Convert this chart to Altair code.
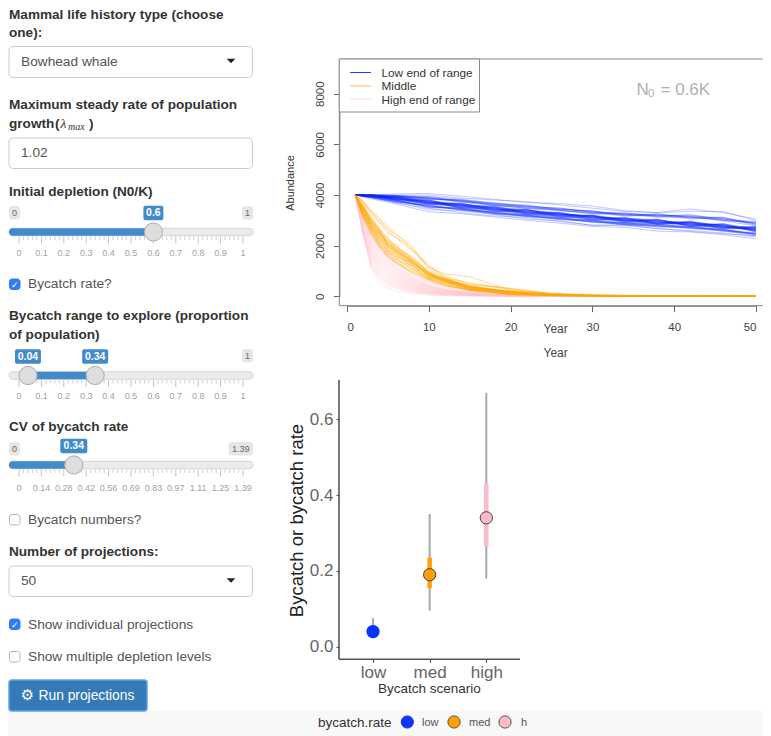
import altair as alt
import pandas as pd

FONT = "Liberation Sans"
OX, OY = 8, 8
W, H = 755, 728

# ------------------------------------------------------------------ chart data
YEARS_LOW = [1, 3, 6, 10, 14, 18, 22, 26, 30, 34, 38, 42, 46, 50]
LOW_LINES = [
    [4000,4010,4040,4060,3950,3830,3700,3660,3560,3380,3310,3450,3300,3050],
    [4000,4000,3990,4000,3880,3800,3740,3610,3480,3350,3290,3360,3340,2990],
    [4000,3850,3640,3340,3260,3130,3000,2890,2760,2720,2570,2540,2430,2270],
    [4000,3880,3700,3420,3380,3230,3050,2980,2800,2830,2660,2600,2500,2340],
    [4000,3900,3690,3480,3300,3170,3110,2950,2810,2790,2680,2560,2470,2400],
    [4000,3980,3900,3780,3640,3500,3410,3240,3190,3020,2990,2860,2840,2660],
    [4000,3970,3860,3700,3620,3440,3390,3290,3120,3090,2930,2910,2760,2700],
    [4000,4000,3920,3690,3580,3510,3340,3230,3170,3000,3010,2850,2790,2630],
    [4000,3960,3840,3750,3560,3470,3360,3200,3210,3040,2910,2920,2730,2720],
    [4000,3990,3880,3680,3650,3420,3310,3280,3100,3070,2950,2830,2820,2610],
    [4000,3950,3910,3730,3540,3490,3300,3310,3090,2980,3000,2870,2710,2750],
    [4000,3980,3830,3770,3600,3400,3420,3190,3160,3060,2880,2900,2770,2640],
    [4000,3940,3870,3660,3630,3530,3280,3250,3130,2950,2970,2810,2850,2590],
    [4000,3990,3930,3710,3520,3450,3350,3170,3200,3010,2920,2940,2700,2680],
    [4000,3970,3820,3790,3570,3380,3400,3300,3060,3080,2860,2840,2800,2620],
    [4000,3960,3890,3640,3660,3460,3250,3220,3180,2970,3020,2790,2750,2710],
    [4000,4010,3850,3720,3510,3520,3320,3150,3140,3030,2900,2950,2680,2650],
    [4000,3930,3900,3760,3590,3370,3380,3270,3040,3100,2940,2780,2830,2570],
    [4000,3980,3800,3670,3640,3480,3230,3240,3170,2940,2990,2880,2720,2730],
    [4000,3990,3950,3740,3500,3430,3440,3130,3110,3050,2870,2920,2790,2600],
    [4000,3950,3860,3630,3610,3550,3290,3260,3020,3000,3030,2760,2740,2690],
    [4000,3970,3810,3800,3550,3360,3370,3180,3190,2960,2850,2930,2810,2550],
    [4000,3920,3880,3700,3670,3410,3260,3320,3080,3110,2960,2820,2690,2760],
    [4000,4000,3840,3650,3530,3540,3410,3120,3150,2990,2890,2970,2780,2580],
    [4000,3960,3930,3780,3480,3460,3270,3210,3010,3070,3040,2750,2860,2670],
    [4000,3940,3790,3710,3620,3350,3330,3280,3160,2930,2910,2860,2670,2700],
    [4000,3980,3870,3620,3570,3500,3240,3160,3050,3040,2840,2890,2810,2560],
    [4000,3990,3820,3750,3460,3420,3430,3230,3120,2910,2980,2800,2720,2740],
    [4000,3930,3920,3690,3680,3390,3210,3190,3000,3090,2830,2950,2740,2610],
    [4000,3960,3780,3640,3590,3570,3300,3110,3180,2970,3050,2770,2880,2540],
    [4000,3970,3900,3820,3450,3330,3360,3250,3030,2900,2860,2910,2650,2690],
    [4000,4010,3960,3850,3800,3700,3560,3480,3330,3230,3170,3100,3050,2880],
    [4000,3990,3980,3880,3740,3660,3600,3430,3370,3190,3210,3140,2990,2900],
    [4000,3900,3740,3580,3450,3290,3180,3080,2940,2850,2790,2700,2620,2450],
    [4000,3920,3760,3550,3420,3320,3150,3060,2970,2820,2750,2730,2590,2480],
    [4000,4000,3970,3930,3840,3660,3580,3450,3340,3260,3220,3170,3090,2870],
    [4000,3990,3940,3900,3790,3630,3530,3490,3300,3280,3180,3200,3040,2930],
    [4000,4010,3990,3860,3770,3680,3510,3420,3380,3220,3240,3120,3110,2850],
    [4000,3970,3950,3950,3750,3610,3570,3400,3290,3300,3160,3230,3020,2960],
    [4000,4000,3920,3840,3820,3590,3490,3460,3350,3180,3260,3090,3130,2820],
    [4000,3980,3960,3880,3710,3640,3470,3390,3270,3240,3140,3160,3000,2900],
    [4000,3990,3900,3910,3730,3570,3540,3370,3310,3160,3200,3060,3070,2800],
    [4000,4000,3940,3830,3780,3600,3460,3410,3250,3250,3120,3130,2980,2780],
    [4000,3930,3790,3540,3490,3310,3240,3090,3000,2870,2840,2740,2640,2470],
    [4000,3920,3750,3600,3430,3340,3190,3130,2960,2900,2800,2780,2610,2510],
    [4000,3940,3810,3520,3510,3280,3220,3050,3020,2860,2860,2710,2660,2430],
    [4000,3910,3730,3570,3410,3300,3160,3100,2930,2920,2770,2760,2580,2500],
    [4000,3950,3770,3500,3470,3250,3200,3020,2980,2840,2810,2690,2630,2420],
    [4000,3900,3720,3610,3390,3270,3140,3070,2910,2880,2740,2720,2560,2460],
    [4000,3930,3800,3530,3440,3240,3170,3040,2950,2810,2780,2670,2600,2380],
]

YEARS_MED = [1, 2, 3, 4, 5, 6, 7, 8, 10, 12, 15, 20, 25, 30, 40, 50]
MED_LINES = [
    [4000,3760,3400,3060,2770,2480,2160,1870,1170,800,500,260,120,60,15,5],
    [4000,3720,3330,3010,2680,2420,2230,1960,1060,730,520,300,110,50,12,4],
    [4000,3680,3300,2920,2620,2310,2120,1830,1250,700,450,320,100,48,11,4],
    [4000,3700,3220,2900,2500,2340,2010,1790,1130,880,770,230,95,45,10,3],
    [4000,3560,3080,2640,2310,1960,1770,1490,980,690,400,200,85,40,9,3],
    [4000,3500,3110,2540,2180,2040,1700,1570,930,720,370,190,80,38,8,3],
    [4000,3620,2990,2680,2240,1880,1750,1420,890,640,420,175,76,36,8,2],
    [4000,3440,3030,2590,2090,1990,1640,1520,960,610,350,210,72,34,7,2],
    [4000,3580,2930,2500,2270,1830,1690,1380,870,700,390,160,70,32,7,2],
    [4000,3380,2970,2610,2030,1920,1590,1460,910,590,330,185,66,30,6,2],
    [4000,3520,2880,2460,2150,1780,1640,1350,820,660,360,150,62,28,6,2],
    [4000,3340,2910,2520,1990,1870,1530,1410,950,570,410,170,60,27,6,2],
    [4000,3470,2830,2390,2100,1730,1580,1300,860,630,310,140,55,25,5,2],
    [4000,3300,2860,2430,1940,1800,1490,1370,780,680,340,165,52,24,5,2],
    [4000,3410,2770,2350,2050,1690,1520,1260,840,550,300,130,50,22,5,1],
    [4000,3260,2800,2300,1910,1750,1440,1320,900,600,380,120,48,20,4,1],
    [4000,3360,2720,2400,1860,1640,1470,1220,750,650,290,155,45,19,4,1],
    [4000,3220,2740,2260,1950,1600,1400,1280,810,530,320,110,43,18,4,1],
    [4000,3310,2670,2200,1820,1660,1350,1180,770,580,270,145,40,17,3,1],
    [4000,3180,2690,2240,1760,1570,1420,1150,720,620,280,105,38,16,3,1],
    [4000,3240,2610,2130,1790,1500,1300,1210,730,500,260,95,36,15,3,1],
    [4000,3130,2640,2090,1700,1530,1250,1090,690,540,240,100,34,14,3,1],
    [4000,3200,2550,2040,1660,1440,1270,1060,700,470,255,85,32,13,3,1],
    [4000,3080,2500,2000,1630,1380,1170,1010,670,450,225,75,30,12,2,1],
    [4000,3150,2460,1960,1580,1350,1130,960,650,430,250,65,25,10,2,1],
    [4000,3080,2400,1900,1550,1310,1100,930,640,420,250,60,22,9,2,1],
    [4000,3490,2950,2470,2120,1850,1610,1390,880,610,350,160,65,30,6,2],
    [4000,3430,2850,2560,2000,1770,1560,1340,830,670,330,175,58,26,5,2],
]

YEARS_HIGH = [1, 2, 3, 4, 5, 6, 8, 10, 12, 15, 20, 30, 50]
HIGH_LINES = [
    [4000,3500,2800,2250,1800,1450,870,600,400,240,70,12,1],
    [4000,3440,2740,2180,1740,1380,840,560,370,210,60,10,1],
    [4000,3380,2650,2120,1660,1300,760,520,340,190,52,8,1],
    [4000,3330,2600,2030,1610,1240,720,450,290,150,48,8,1],
    [4000,3260,2520,1970,1550,1190,680,430,270,135,45,7,1],
    [4000,3200,2450,1900,1480,1130,650,410,260,125,42,7,1],
    [4000,3150,2370,1830,1420,1080,620,390,240,120,38,6,1],
    [4000,3080,2300,1760,1350,1030,590,370,230,110,36,6,1],
    [4000,3030,2220,1690,1290,980,560,350,215,105,33,5,0],
    [4000,2970,2160,1620,1220,930,530,330,200,100,30,5,0],
    [4000,2910,2090,1550,1160,880,500,310,190,92,28,4,0],
    [4000,2860,2010,1480,1100,830,470,290,175,85,25,4,0],
    [4000,2800,1940,1410,1040,790,440,270,165,78,23,3,0],
    [4000,2740,1870,1340,980,740,410,250,150,72,20,3,0],
    [4000,2690,1790,1270,930,700,385,230,140,66,18,3,0],
    [4000,2630,1720,1200,870,650,350,215,130,60,16,2,0],
    [4000,2580,1640,1130,810,610,330,195,118,55,14,2,0],
    [4000,2530,1570,1060,760,570,300,180,108,50,13,2,0],
    [4000,2490,1480,980,700,520,270,160,98,44,11,2,0],
    [4000,2450,1400,910,640,470,240,140,85,38,10,1,0],
    [4000,2420,1310,830,570,420,210,120,72,33,8,1,0],
    [4000,2400,1220,750,510,370,180,100,60,27,6,1,0],
    [4000,2380,1140,660,440,310,145,80,45,20,5,1,0],
    [4000,2370,1040,520,330,210,90,40,20,8,2,0,0],
]

LEGEND_TOP = ["Low end of range", "Middle", "High end of range"]
COL_LOW, COL_MED, COL_HIGH = "#0a24ff", "#ffa500", "#ffc0cb"

SCENARIOS = ["low", "med", "high"]
POINT_VALUES = [0.04, 0.19, 0.34]
WIDE_LO = [0.03, 0.095, 0.18]
WIDE_HI = [0.075, 0.35, 0.67]
NARROW_LO = [0.03, 0.155, 0.265]
NARROW_HI = [0.05, 0.235, 0.43]
POINT_COLORS = ["#0a33ff", "#ffa000", "#ffb9c8"]


def long_df(years, lines):
    return pd.DataFrame(
        [{"year": yr, "n": v, "run": i} for i, ln in enumerate(lines) for yr, v in zip(years, ln)]
    )


# ------------------------------------------------------------------ helpers
layers = []


def pxdf(rows, cols):
    df = pd.DataFrame(rows, columns=cols)
    for c in df.columns:
        if c in ("x", "x2"):
            df[c] = df[c] - OX
        if c in ("y", "y2"):
            df[c] = df[c] - OY
    return df


PX = alt.X("x:Q", scale=None, axis=None)
PY = alt.Y("y:Q", scale=None, axis=None)


def rects(rows, **mark):
    df = pxdf(rows, ["x", "y", "x2", "y2", "fill", "stroke"])
    layers.append(
        alt.Chart(df).mark_rect(**mark).encode(
            x=PX, y=PY, x2="x2:Q", y2="y2:Q",
            fill=alt.Fill("fill:N", scale=None),
            stroke=alt.Stroke("stroke:N", scale=None),
        )
    )


def rules(rows, **mark):
    df = pxdf(rows, ["x", "y", "x2", "y2", "color"])
    layers.append(
        alt.Chart(df).mark_rule(**mark).encode(
            x=PX, y=PY, x2="x2:Q", y2="y2:Q",
            color=alt.Color("color:N", scale=None),
        )
    )


def texts(rows, font=FONT, **mark):
    df = pxdf(rows, ["text", "x", "y", "size", "color"])
    mark.setdefault("align", "left")
    mark.setdefault("baseline", "middle")
    layers.append(
        alt.Chart(df).mark_text(font=font, **mark).encode(
            x=PX, y=PY, text="text:N",
            size=alt.Size("size:Q", scale=None),
            color=alt.Color("color:N", scale=None),
        )
    )


# ------------------------------------------------------------------ left panel
DARK = "#333333"
GREY = "#555555"
LB = 13.6
TX = 13.7
texts([
    ("Mammal life history type (choose", 9, 15, LB, DARK),
    ("one):", 9, 33, LB, DARK),
    ("Maximum steady rate of population", 9, 105, LB, DARK),
    ("growth", 9, 124, LB, DARK),
    ("(", 55, 124, LB, DARK),
    (")", 89, 124, LB, DARK),
    ("Initial depletion (N0/K)", 9, 192, LB, DARK),
    ("Bycatch range to explore (proportion", 9, 316, LB, DARK),
    ("of population)", 9, 335, LB, DARK),
    ("CV of bycatch rate", 9, 427, LB, DARK),
    ("Number of projections:", 9, 552, LB, DARK),
], fontWeight="bold")
texts([("λ", 60.5, 124, 13.5, DARK)], font="Liberation Serif", fontStyle="italic")
texts([("max", 68, 127, 10, DARK)], font="Liberation Serif", fontStyle="italic")

rects([
    (9, 46.5, 252.5, 77.5, "#ffffff", "#cccccc"),
    (9, 138, 252.5, 168.5, "#ffffff", "#cccccc"),
    (9, 566, 252.5, 596.5, "#ffffff", "#cccccc"),
], cornerRadius=4, strokeWidth=1)
texts([
    ("Bowhead whale", 21, 62, TX, GREY),
    ("1.02", 21, 153, TX, GREY),
    ("50", 21, 581, TX, GREY),
    ("Bycatch rate?", 28, 284, TX, GREY),
    ("Bycatch numbers?", 28, 519.5, TX, GREY),
    ("Show individual projections", 28, 624.5, TX, GREY),
    ("Show multiple depletion levels", 28, 656.5, TX, GREY),
])
layers.append(
    alt.Chart(pxdf([(231, 61), (231, 580.5)], ["x", "y"]))
    .mark_point(shape="M-1,-0.5L1,-0.5L0,0.5Z", filled=True, size=75, color="#222222", opacity=1)
    .encode(x=PX, y=PY)
)

# checkboxes
rects([
    (9.5, 279, 20, 289.5, "#2f7df6", "#2f7df6"),
    (9.5, 619, 20, 629.5, "#2f7df6", "#2f7df6"),
    (9.5, 514.5, 20, 525, "#ffffff", "#b5b5b5"),
    (9.5, 651.5, 20, 662, "#ffffff", "#b5b5b5"),
], cornerRadius=2.5)
texts([("✓", 14.8, 284.5, 9, "#ffffff"), ("✓", 14.8, 624.5, 9, "#ffffff")],
      font="DejaVu Sans", align="center", fontWeight="bold")


def slider(domain, lo, hi, cy, tick_vals, tick_labels, label_y, boxes, fill_from_left=True):
    sx = alt.Scale(domain=domain, range=[19 - OX, 243 - OX], nice=False, zero=False)
    X = alt.X("v:Q", scale=sx, axis=None)
    rects([(9, cy - 3.7, 253, cy + 3.7, "#ebebeb", "#d5d5d5")], cornerRadius=3.5)
    start = domain[0] if fill_from_left else lo
    df = pd.DataFrame({"v": [start], "v2": [hi], "y": [cy - 3.7 - OY], "y2": [cy + 3.7 - OY]})
    if fill_from_left:
        rects([(9, cy - 3.7, 22, cy + 3.7, "#428bca", "#428bca")], cornerRadius=3.5, strokeWidth=0)
    layers.append(alt.Chart(df).mark_rect(color="#428bca", strokeWidth=0).encode(x=X, x2="v2:Q", y=PY, y2="y2:Q"))
    step = (domain[1] - domain[0]) / (len(tick_vals) - 1) / 5
    mn_vals = [domain[0] + step * i for i in range((len(tick_vals) - 1) * 5) if i % 5]
    mn = pd.DataFrame({"v": mn_vals, "y": cy + 4.5 - OY, "y2": cy + 8 - OY})
    # major ticks sit evenly along the track, as the slider draws them
    even = [domain[0] + step * 5 * i for i in range(len(tick_vals))]
    mj = pd.DataFrame({"v": even, "y": cy + 4.5 - OY, "y2": cy + 11.5 - OY})
    layers.append(alt.Chart(mn).mark_rule(color="#cfcfcf", strokeWidth=1).encode(x=X, y=PY, y2="y2:Q"))
    layers.append(alt.Chart(mj).mark_rule(color="#a9c8e4", strokeWidth=1).encode(x=X, y=PY, y2="y2:Q"))
    lab = pd.DataFrame({"v": even, "t": tick_labels, "y": label_y - OY})
    layers.append(
        alt.Chart(lab).mark_text(font=FONT, fontSize=9, color="#9aa3ab", baseline="middle")
        .encode(x=X, y=PY, text="t:N")
    )
    # handles
    hv = [hi] if fill_from_left else [lo, hi]
    layers.append(
        alt.Chart(pd.DataFrame({"v": hv, "y": cy - OY}))
        .mark_circle(size=330, color="#dedede", stroke="#ababab", strokeWidth=1, opacity=1)
        .encode(x=X, y=PY)
    )
    # value boxes
    for v, w in boxes:
        b = pd.DataFrame({"v": [v], "y": [cy - 19 - OY]})
        layers.append(
            alt.Chart(b).mark_rect(width=w, height=14.5, color="#428bca", cornerRadius=2).encode(x=X, y=PY)
        )
        b["t"] = [str(v)]
        layers.append(
            alt.Chart(b).mark_text(font=FONT, fontSize=10.5, color="#ffffff", baseline="middle", fontWeight="bold")
            .encode(x=X, y=PY, text="t:N")
        )


T10 = [i / 10 for i in range(11)]
L10 = ["0", "0.1", "0.2", "0.3", "0.4", "0.5", "0.6", "0.7", "0.8", "0.9", "1"]
T139 = [0, 0.14, 0.28, 0.42, 0.56, 0.69, 0.83, 0.97, 1.11, 1.25, 1.39]
L139 = ["0", "0.14", "0.28", "0.42", "0.56", "0.69", "0.83", "0.97", "1.11", "1.25", "1.39"]

slider([0, 1], 0, 0.6, 232, T10, L10, 252.5, [(0.6, 20)])
slider([0, 1], 0.04, 0.34, 375.5, T10, L10, 395.5, [(0.04, 26), (0.34, 26)], fill_from_left=False)
slider([0, 1.39], 0, 0.34, 465, T139, L139, 487.5, [(0.34, 27)])

# slider end captions
rects([
    (9.5, 206.5, 19.5, 219, "#e6e6e6", "#e6e6e6"),
    (242.5, 206.5, 252.5, 219, "#e6e6e6", "#e6e6e6"),
    (242.5, 349.5, 252.5, 362, "#e6e6e6", "#e6e6e6"),
    (9.5, 442.5, 19.5, 455, "#e6e6e6", "#e6e6e6"),
    (229, 442.5, 252.5, 455, "#e6e6e6", "#e6e6e6"),
], cornerRadius=2)
texts([
    ("0", 14.5, 212.8, 9, "#666666"),
    ("1", 247.5, 212.8, 9, "#666666"),
    ("1", 247.5, 355.8, 9, "#666666"),
    ("0", 14.5, 448.8, 9, "#666666"),
    ("1.39", 240.8, 448.8, 9, "#666666"),
], align="center")

# footer band and button
rects([(8, 711.5, 771, 736, "#f8f8f8", "#f8f8f8")])
rects([(9, 680, 147, 711, "#337ab7", "#5f9ff0")], cornerRadius=3, strokeWidth=1.5)
texts([("⚙", 27.5, 695, 15, "#ffffff")], font="DejaVu Sans", align="center")
texts([("Run projections", 38.5, 695.5, 13.8, "#ffffff")])

# ------------------------------------------------------------------ top plot (projections)
TOP_X_RANGE = [347 - OX, 756 - OX]
TOP_Y_RANGE = [296.3 - OY, 93.7 - OY]
TOP_XS = alt.Scale(domain=[0, 50], range=TOP_X_RANGE, nice=False, zero=False)
TOP_YS = alt.Scale(domain=[0, 8000], range=TOP_Y_RANGE, nice=False, zero=False)

rules([
    (339.3, 59, 771, 59, "#8a8a8a"),
    (339.3, 305.7, 771, 305.7, "#8a8a8a"),
    (339.3, 59, 339.3, 305.7, "#8a8a8a"),
], strokeWidth=1)

top_x_axis = alt.Axis(
    values=[0, 10, 20, 30, 40, 50], orient="bottom", offset=305.7 - OY - H, title=None, grid=False,
    domainColor="#666666", tickColor="#666666", tickSize=6, labelFontSize=11.5, labelFont=FONT,
    labelColor="#444444", labelPadding=10, format="d",
)
top_y_axis = alt.Axis(
    values=[0, 2000, 4000, 6000, 8000], orient="left", offset=-(339.3 - OX), title=None, grid=False,
    domainColor="#666666", tickColor="#666666", tickSize=6, labelFontSize=11.5, labelFont=FONT,
    labelColor="#444444", labelAngle=270, labelAlign="center", labelBaseline="bottom", labelPadding=8,
    format="d",
)

for i, (yrs, lines, col) in enumerate([
    (YEARS_LOW, LOW_LINES, COL_LOW),
    (YEARS_HIGH, HIGH_LINES, COL_HIGH),
    (YEARS_MED, MED_LINES, COL_MED),
]):
    op = 0.28 if col == COL_LOW else (0.45 if col == COL_HIGH else 0.45)
    layers.append(
        alt.Chart(long_df(yrs, lines)).mark_line(color=col, strokeWidth=0.9, opacity=op).encode(
            x=alt.X("year:Q", scale=TOP_XS, axis=top_x_axis if i == 0 else None),
            y=alt.Y("n:Q", scale=TOP_YS, axis=top_y_axis if i == 0 else None),
            detail="run:N",
        )
    )

# base-R style legend box
rects([(339.3, 59, 479.5, 112, "#ffffff", "#8a8a8a")], strokeWidth=1)
rules([
    (350, 72.5, 371, 72.5, "#2a3cff"),
    (350, 86, 371, 86, "#ffb84d"),
    (350, 99, 371, 99, "#fbd5dc"),
], strokeWidth=1)
texts([(LEGEND_TOP[0], 381.5, 72.5, 11.8, "#333333"),
       (LEGEND_TOP[1], 381.5, 86, 11.8, "#333333"),
       (LEGEND_TOP[2], 381.5, 99.5, 11.8, "#333333")])

texts([("N", 636.5, 90, 17, "#b0b0b0"), ("0", 648, 94, 11.5, "#b0b0b0"), ("= 0.6K", 660.5, 90, 17, "#b0b0b0")])
texts([("Year", 543.5, 329, 12, "#444444"), ("Year", 543.5, 353, 12, "#444444")])
texts([("Abundance", 291, 183, 11, "#333333")], angle=270, align="center")

# ------------------------------------------------------------------ bottom plot (rates)
BOT_XS = alt.Scale(type="point", domain=SCENARIOS, range=[373 - OX, 486.3 - OX], padding=0)
BOT_YS = alt.Scale(domain=[0, 0.6], range=[646.7 - OY, 419.3 - OY], nice=False, zero=False)
rates = pd.DataFrame({
    "s": SCENARIOS, "v": POINT_VALUES, "wl": WIDE_LO, "wh": WIDE_HI,
    "nl": NARROW_LO, "nh": NARROW_HI, "c": POINT_COLORS,
})
bot_x_axis = alt.Axis(
    orient="bottom", offset=659.3 - OY - H, title=None, grid=False, domain=False, labelAngle=0,
    tickColor="#555555", tickSize=3, tickWidth=1.2, labelFontSize=17, labelFont=FONT,
    labelColor="#666666", labelPadding=2,
)
bot_y_axis = alt.Axis(
    values=[0, 0.2, 0.4, 0.6], orient="left", offset=-(339 - OX), title=None, grid=False, domain=False,
    tickColor="#555555", tickSize=3, tickWidth=1.2, labelFontSize=17, labelFont=FONT,
    labelColor="#666666", labelPadding=3, format=".1f",
)
BX = alt.X("s:N", scale=BOT_XS, sort=SCENARIOS, axis=None)
layers.append(
    alt.Chart(rates).mark_rule(color="#a8a8a8", strokeWidth=2).encode(
        x=alt.X("s:N", scale=BOT_XS, sort=SCENARIOS, axis=bot_x_axis),
        y=alt.Y("wl:Q", scale=BOT_YS, axis=bot_y_axis),
        y2="wh:Q",
    )
)
layers.append(
    alt.Chart(rates).mark_rule(strokeWidth=4.5).encode(
        x=BX, y=alt.Y("nl:Q", scale=BOT_YS, axis=None), y2="nh:Q",
        color=alt.Color("c:N", scale=None),
    )
)
layers.append(
    alt.Chart(rates[rates.s != "low"]).mark_circle(size=150, stroke="#333333", strokeWidth=0.9, opacity=1).encode(
        x=BX, y=alt.Y("v:Q", scale=BOT_YS, axis=None),
        color=alt.Color("c:N", scale=None),
    )
)
layers.append(
    alt.Chart(rates[rates.s == "low"]).mark_circle(size=175, opacity=1).encode(
        x=BX, y=alt.Y("v:Q", scale=BOT_YS, axis=None),
        color=alt.Color("c:N", scale=None),
    )
)
rules([(339, 380, 339, 659.3, "#555555"), (339, 659.3, 520, 659.3, "#555555")], strokeWidth=1.6)
texts([("Bycatch or bycatch rate", 296.5, 520.5, 18.5, "#222222")], angle=270, align="center")
texts([("Bycatch scenario", 429.3, 688.5, 13.5, "#333333")], align="center")

# footer legend
texts([("bycatch.rate", 318, 723, 13.5, "#333333")])
layers.append(
    alt.Chart(pxdf([(407.3, 722, POINT_COLORS[0], "#1030cc"), (454, 722, POINT_COLORS[1], "#444444"),
                    (505, 722, POINT_COLORS[2], "#444444")], ["x", "y", "c", "st"]))
    .mark_circle(size=150, strokeWidth=0.9, opacity=1)
    .encode(x=PX, y=PY, color=alt.Color("c:N", scale=None), stroke=alt.Stroke("st:N", scale=None))
)
texts([("low", 422, 723, 11, "#555555"), ("med", 469, 723, 11, "#555555"), ("h", 521, 723, 11, "#555555")])

chart = (
    alt.layer(*layers)
    .resolve_scale(x="independent", y="independent")
    .properties(width=W, height=H, padding=0, autosize=alt.AutoSizeParams(type="none"), background="#ffffff")
    .configure_view(stroke=None)
)
chart.save("out.html", embed_options={"renderer": "svg", "actions": False})
